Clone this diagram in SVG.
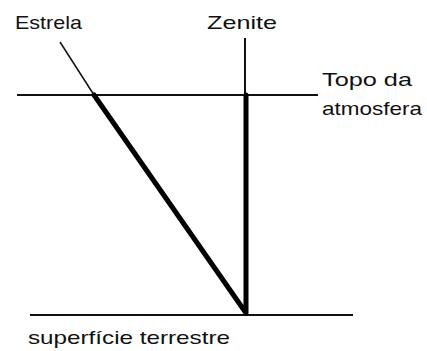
<svg xmlns="http://www.w3.org/2000/svg" width="427" height="351" viewBox="0 0 427 351">
<style>
.t{font-family:"Liberation Sans",Arial,sans-serif;font-size:19px;fill:#111}
.thin{stroke:#111;stroke-width:2;fill:none}
.thick{stroke:#000;stroke-width:5;fill:none;stroke-linecap:round;stroke-linejoin:round}
</style>
<rect width="427" height="351" fill="#fff"/>
<g id="connectors">
<line class="thin" x1="17" y1="95" x2="318" y2="95"/>
<line class="thin" x1="30" y1="315" x2="353" y2="315"/>
<line class="thin" x1="245" y1="38" x2="245" y2="95"/>
<line class="thin" x1="60" y1="42" x2="94" y2="95" style="stroke-width:1.5"/>
<polyline class="thick" points="94,95 246,313 246,95"/>
</g>
<g id="estrela"><text class="t" x="15" y="29" textLength="67" lengthAdjust="spacingAndGlyphs">Estrela</text></g>
<g id="zenite"><text class="t" x="207" y="29" textLength="70" lengthAdjust="spacingAndGlyphs">Zenite</text></g>
<g id="topo"><text class="t" x="322" y="86" textLength="90" lengthAdjust="spacingAndGlyphs">Topo da</text><text class="t" x="322" y="115" textLength="100" lengthAdjust="spacingAndGlyphs">atmosfera</text></g>
<g id="superficie"><text class="t" x="28" y="344" textLength="202" lengthAdjust="spacingAndGlyphs">superfície terrestre</text></g>
</svg>
